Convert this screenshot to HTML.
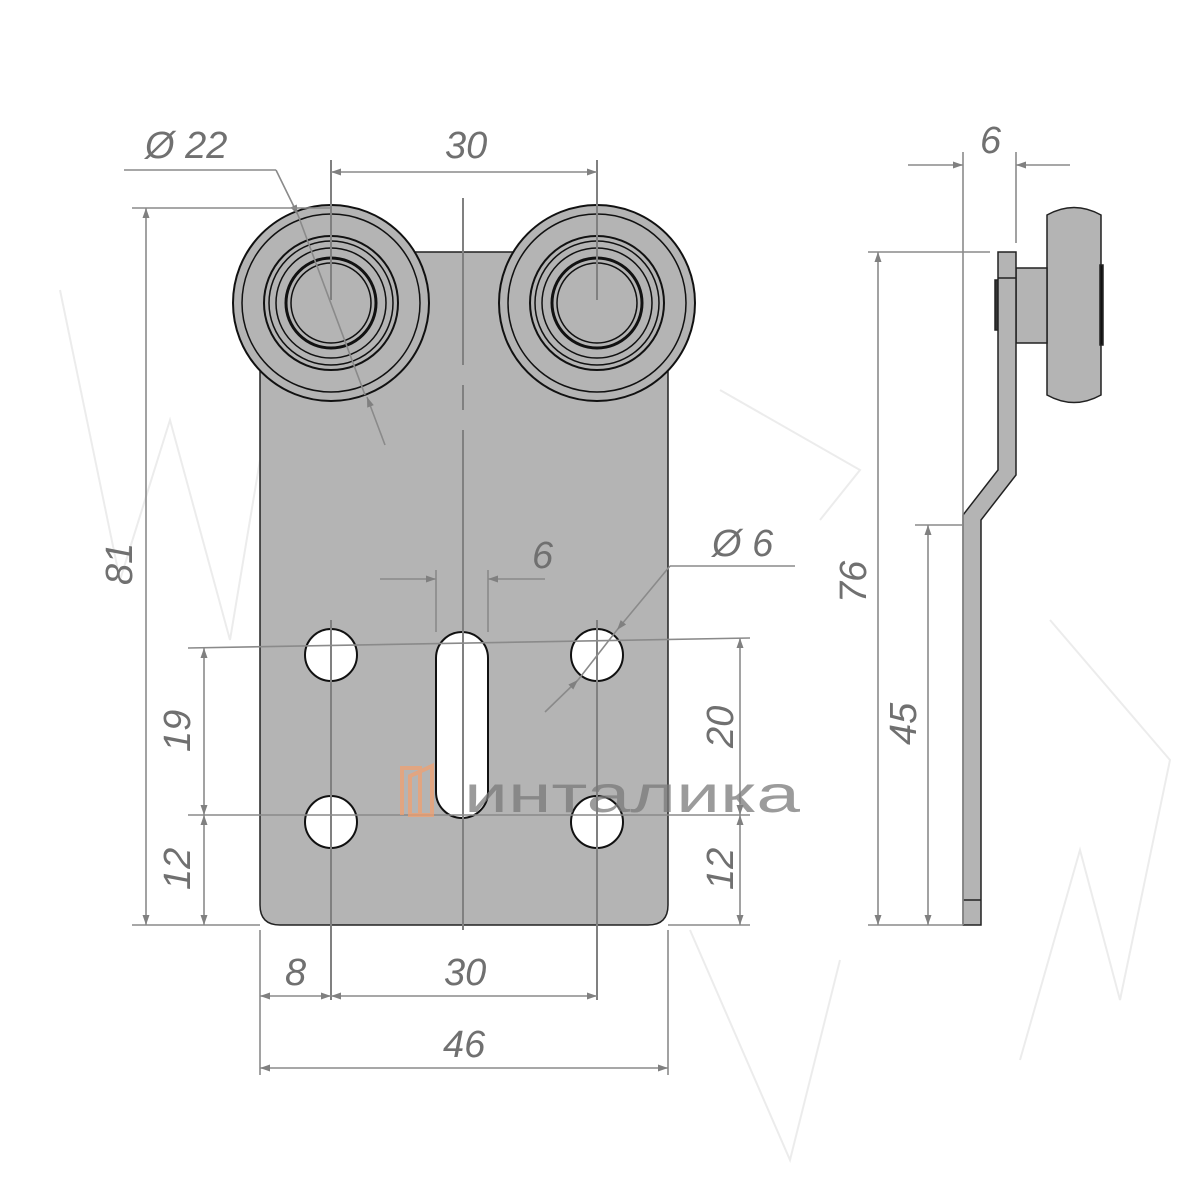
<!DOCTYPE html>
<html><head><meta charset="utf-8"><style>
html,body{margin:0;padding:0;background:#fff}
svg{display:block}
text{font-family:"Liberation Sans",sans-serif;font-style:italic;fill:#707070;font-size:38px}
</style></head><body>
<svg width="1200" height="1200" viewBox="0 0 1200 1200" xmlns="http://www.w3.org/2000/svg">
<defs>
<marker id="a" viewBox="0 0 10 10" refX="10" refY="5" markerWidth="26" markerHeight="10" markerUnits="userSpaceOnUse" orient="auto-start-reverse"><path d="M0,1.5 L10,5 L0,8.5 Z" fill="#808080"/></marker>
</defs>
<g stroke="#ececec" stroke-width="2" fill="none">
<polyline points="60,290 120,580 170,420 230,640 260,460"/>
<polyline points="720,390 860,470 820,520"/>
<polyline points="1050,620 1170,760 1120,1000 1080,850 1020,1060"/>
<polyline points="690,930 790,1160 840,960"/>
</g>
<path d="M260,252 H668 V905 Q668,925 648,925 H280 Q260,925 260,905 Z" fill="#b4b4b4" stroke="#222" stroke-width="1.5"/>
<g fill="#fff" stroke="#111" stroke-width="2">
<circle cx="331" cy="655" r="26"/><circle cx="597" cy="655" r="26"/>
<circle cx="331" cy="822" r="26"/><circle cx="597" cy="822" r="26"/>
<rect x="436" y="632" width="52" height="186" rx="26"/>
</g>
<g id="r" stroke="#111" fill="#b4b4b4">
<circle cx="331" cy="303" r="98" stroke-width="2"/>
<circle cx="331" cy="303" r="89" stroke-width="1.5" fill="none"/>
<circle cx="331" cy="303" r="67" stroke-width="2" fill="none"/>
<circle cx="331" cy="303" r="62" stroke-width="1.5" fill="none"/>
<circle cx="331" cy="303" r="55" stroke-width="1.5" fill="none"/>
<circle cx="331" cy="303" r="45" stroke-width="3" fill="none"/>
<circle cx="331" cy="303" r="40" stroke-width="1.5" fill="none"/>
</g>
<use href="#r" x="266"/>
<g stroke="#222" stroke-width="1.5" fill="#b4b4b4">
<path d="M1047,215 Q1074,200 1101,215 V395 Q1074,410 1047,395 Z"/>
<rect x="1016" y="268" width="31" height="75"/>
<rect x="995" y="280" width="4" height="50" fill="#333"/>
<path d="M998,252 H1016 V475 L981,520 V925 H963 V515 L998,470 Z"/>
<line x1="998" y1="278" x2="1016" y2="278"/>
<line x1="963" y1="900" x2="981" y2="900"/>
<rect x="1100" y="265" width="3" height="80" fill="#111"/>
</g>
<g stroke="#808080" stroke-width="2" fill="none">
<line x1="463" y1="198" x2="463" y2="365"/><line x1="463" y1="385" x2="463" y2="410"/>
<line x1="463" y1="430" x2="463" y2="930"/>
<line x1="331" y1="160" x2="331" y2="300"/><line x1="597" y1="160" x2="597" y2="300"/>
<line x1="331" y1="620" x2="331" y2="1000"/><line x1="597" y1="620" x2="597" y2="1000"/>
</g>
<g stroke="#8a8a8a" stroke-width="1.6" fill="none">
<line x1="331" y1="172" x2="597" y2="172" marker-start="url(#a)" marker-end="url(#a)"/>
<line x1="124" y1="170" x2="276" y2="170"/>
<line x1="276" y1="170" x2="298" y2="215" marker-end="url(#a)"/>
<line x1="298" y1="215" x2="365" y2="395"/>
<line x1="385" y1="445" x2="367" y2="397" marker-end="url(#a)"/>
<line x1="132" y1="208" x2="330" y2="208"/>
<line x1="132" y1="925" x2="260" y2="925"/>
<line x1="146" y1="208" x2="146" y2="925" marker-start="url(#a)" marker-end="url(#a)"/>
<line x1="188" y1="648" x2="750" y2="638"/>
<line x1="188" y1="815" x2="750" y2="815"/>
<line x1="204" y1="648" x2="204" y2="815" marker-start="url(#a)" marker-end="url(#a)"/>
<line x1="204" y1="815" x2="204" y2="925" marker-start="url(#a)" marker-end="url(#a)"/>
<line x1="668" y1="925" x2="750" y2="925"/>
<line x1="740" y1="638" x2="740" y2="815" marker-start="url(#a)" marker-end="url(#a)"/>
<line x1="740" y1="815" x2="740" y2="925" marker-start="url(#a)" marker-end="url(#a)"/>
<line x1="436" y1="570" x2="436" y2="632"/><line x1="488" y1="570" x2="488" y2="632"/>
<line x1="380" y1="579" x2="436" y2="579" marker-end="url(#a)"/>
<line x1="545" y1="579" x2="488" y2="579" marker-end="url(#a)"/>
<line x1="795" y1="566" x2="670" y2="566"/>
<line x1="670" y1="566" x2="617" y2="630" marker-end="url(#a)"/>
<line x1="617" y1="630" x2="578" y2="680"/>
<line x1="545" y1="712" x2="578" y2="680" marker-end="url(#a)"/>
<line x1="260" y1="930" x2="260" y2="1075"/><line x1="668" y1="930" x2="668" y2="1075"/>
<line x1="260" y1="996" x2="331" y2="996" marker-start="url(#a)" marker-end="url(#a)"/>
<line x1="331" y1="996" x2="597" y2="996" marker-start="url(#a)" marker-end="url(#a)"/>
<line x1="260" y1="1068" x2="668" y2="1068" marker-start="url(#a)" marker-end="url(#a)"/>
<line x1="963" y1="152" x2="963" y2="925"/>
<line x1="1016" y1="152" x2="1016" y2="243"/>
<line x1="908" y1="165" x2="963" y2="165" marker-end="url(#a)"/>
<line x1="1070" y1="165" x2="1016" y2="165" marker-end="url(#a)"/>
<line x1="868" y1="252" x2="990" y2="252"/>
<line x1="868" y1="925" x2="963" y2="925"/>
<line x1="915" y1="525" x2="963" y2="525"/>
<line x1="878" y1="252" x2="878" y2="925" marker-start="url(#a)" marker-end="url(#a)"/>
<line x1="928" y1="525" x2="928" y2="925" marker-start="url(#a)" marker-end="url(#a)"/>
</g>
<text x="445" y="158">30</text>
<text x="145" y="158">Ø 22</text>
<text x="532" y="568">6</text>
<text x="712" y="556">Ø 6</text>
<text x="285" y="985">8</text>
<text x="444" y="985">30</text>
<text x="443" y="1057">46</text>
<text x="980" y="153">6</text>
<text transform="translate(132,585) rotate(-90)">81</text>
<text transform="translate(190,752) rotate(-90)">19</text>
<text transform="translate(190,890) rotate(-90)">12</text>
<text transform="translate(733,748) rotate(-90)">20</text>
<text transform="translate(733,890) rotate(-90)">12</text>
<text transform="translate(866,603) rotate(-90)">76</text>
<text transform="translate(916,745) rotate(-90)">45</text>
<g opacity="0.75">
<path d="M402,815 V768 H420 V815 M410,815 V776 L432,766 V815 Z" fill="none" stroke="#f0a070" stroke-width="4"/>
<text x="464" y="812" textLength="336" lengthAdjust="spacingAndGlyphs" style="font-style:normal;font-size:52px;fill:#7a7a7a">инталика</text>
</g>
</svg>
</body></html>
